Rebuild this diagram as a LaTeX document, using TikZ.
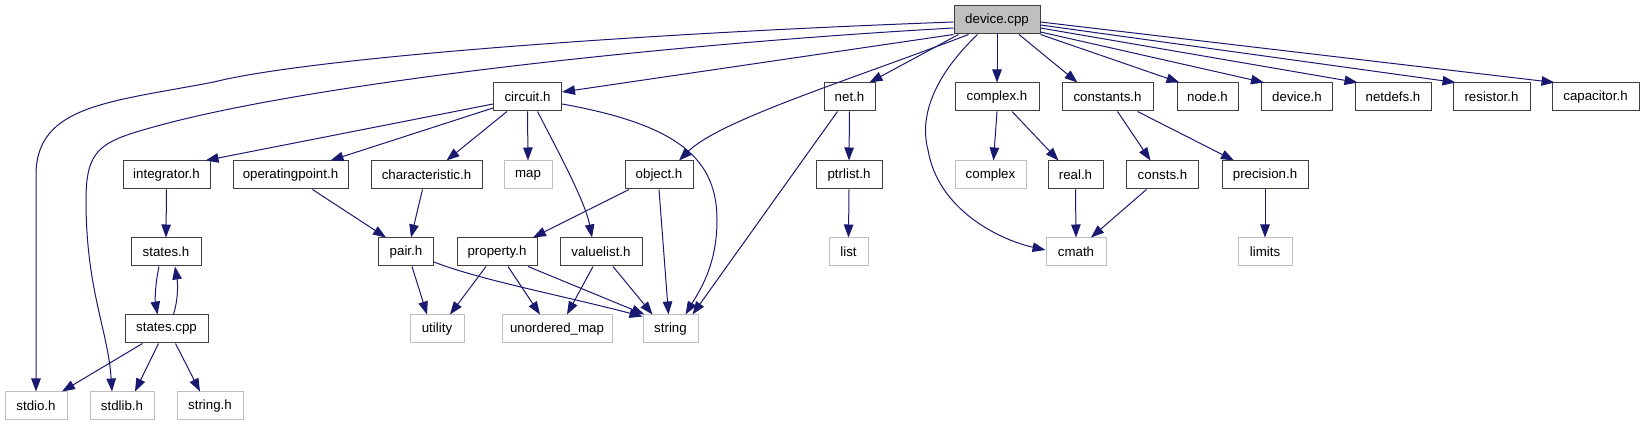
\documentclass[tikz,border=0pt]{standalone}
\usepackage{fontspec}
\setmainfont{Liberation Sans}
\usetikzlibrary{arrows.meta}
\definecolor{edgeblue}{HTML}{191970}
\definecolor{sysgray}{HTML}{BFBFBF}
\definecolor{boxline}{HTML}{404040}

\begin{document}
\begin{tikzpicture}[x=1pt, y=-1pt,
  file/.style={draw=boxline, line width=1pt, minimum height=28pt, inner sep=1pt, font=\fontsize{13.3}{16}\selectfont},
  sys/.style={file, draw=sysgray},
  root/.style={file, fill=sysgray},
  dep/.style={-{Triangle[length=13pt,width=9.5pt]}, edgeblue, line width=1pt}
]
  \useasboundingbox (0,0) rectangle (1644,427);

  % Top file
  \node[root, minimum width=86] (dev) at (997,20) {device.cpp};

  % First level
  \node[file, minimum width=68] (circuit) at (527.5,97) {circuit.h};
  \node[file, minimum width=51] (net) at (849.5,97) {net.h};
  \node[file, minimum width=84] (cplxh) at (997,97) {complex.h};
  \node[file, minimum width=91] (constants) at (1107.5,97) {constants.h};
  \node[file, minimum width=61] (nodeh) at (1207.5,97) {node.h};
  \node[file, minimum width=71] (deviceh) at (1297,97) {device.h};
  \node[file, minimum width=76] (netdefs) at (1393,97) {netdefs.h};
  \node[file, minimum width=77] (resistor) at (1491.5,97) {resistor.h};
  \node[file, minimum width=87] (capacitor) at (1595.5,97) {capacitor.h};

  % Second level
  \node[file, minimum width=87] (integrator) at (166.5,175) {integrator.h};
  \node[file, minimum width=115] (opoint) at (290.5,175) {operatingpoint.h};
  \node[file, minimum width=111] (charac) at (426.5,175) {characteristic.h};
  \node[sys, minimum width=48] (map) at (528,175) {map};
  \node[file, minimum width=68] (object) at (659,175) {object.h};
  \node[file, minimum width=66] (ptrlist) at (849,175) {ptrlist.h};
  \node[sys, minimum width=71] (cplx) at (990.5,175) {complex};
  \node[file, minimum width=55] (real) at (1075.5,175) {real.h};
  \node[file, minimum width=72] (consts) at (1162.5,175) {consts.h};
  \node[file, minimum width=86] (precision) at (1265,175) {precision.h};

  % Third level
  \node[file, minimum width=70] (statesh) at (166,252) {states.h};
  \node[file, minimum width=55] (pair) at (406,252) {pair.h};
  \node[file, minimum width=80] (property) at (497,252) {property.h};
  \node[file, minimum width=82] (valuelist) at (601,252) {valuelist.h};
  \node[sys, minimum width=39] (list) at (848.5,252) {list};
  \node[sys, minimum width=60] (cmath) at (1076,252) {cmath};
  \node[sys, minimum width=54] (limits) at (1265,252) {limits};

  % Fourth level
  \node[file, minimum width=83] (statescpp) at (166.5,329) {states.cpp};
  \node[sys, minimum width=54] (utility) at (437,329) {utility};
  \node[sys, minimum width=110] (umap) at (557,329) {unordered\_map};
  \node[sys, minimum width=55] (string) at (670.5,329) {string};

  % Bottom level
  \node[sys, minimum width=62] (stdio) at (36,406) {stdio.h};
  \node[sys, minimum width=64] (stdlib) at (122,406) {stdlib.h};
  \node[sys, minimum width=66] (stringh) at (210,406) {string.h};

  % Includes of device.cpp
  \draw[dep] ([yshift=-2pt]dev.west) .. controls (600,35) and (300,60) .. (214,82)
    .. controls (110,102) and (36,105) .. (36,175) -- (stdio.north);
  \draw[dep] ([yshift=-8pt]dev.west) .. controls (650,45) and (300,85) .. (150,128)
    .. controls (100,142) and (86,150) .. (86,200) .. controls (86,290) and (108,330) .. ([xshift=-10pt]stdlib.north);
  \draw[dep] (dev.south west) -- ([yshift=5pt]circuit.east);
  \draw[dep] ([xshift=15pt]dev.south west) .. controls (850,80) and (720,120) .. ([xshift=20pt]object.north);
  \draw[dep] ([xshift=5pt]dev.south west) -- ([xshift=20pt]net.north);
  \draw[dep] ([xshift=24pt]dev.south west) .. controls (930,80) and (920,120) .. (928,150)
    .. controls (938,210) and (1000,240) .. ([yshift=2pt]cmath.west);
  \draw[dep] (dev.south) -- (cplxh.north);
  \draw[dep] ([xshift=22pt]dev.south) -- ([xshift=-30pt]constants.north);
  \draw[dep] (dev.south east) -- ([xshift=3pt]nodeh.north west);
  \draw[dep] ([yshift=-12pt]dev.east) -- ([xshift=3pt]deviceh.north west);
  \draw[dep] ([yshift=-8pt]dev.east) -- ([xshift=3pt]netdefs.north west);
  \draw[dep] ([yshift=-5pt]dev.east) -- ([xshift=3pt]resistor.north west);
  \draw[dep] ([yshift=-2pt]dev.east) -- ([xshift=3pt]capacitor.north west);

  % circuit.h
  \draw[dep] ([yshift=-7pt]circuit.west) -- ([xshift=-5pt]integrator.north east);
  \draw[dep] ([yshift=-11pt]circuit.west) -- ([xshift=40pt]opoint.north);
  \draw[dep] ([xshift=14pt]circuit.south west) -- ([xshift=20pt]charac.north);
  \draw[dep] (circuit.south) -- (map.north);
  \draw[dep] ([xshift=10pt]circuit.south) .. controls (552,140) and (585,200) .. ([xshift=-9pt]valuelist.north);
  \draw[dep] ([yshift=-7pt]circuit.east) .. controls (680,125) and (717,160) .. (717,220)
    .. controls (717,265) and (700,290) .. ([xshift=15pt]string.north);

  % object.h, net.h
  \draw[dep] ([xshift=-30pt]object.south) -- ([xshift=36pt]property.north);
  \draw[dep] (object.south) -- ([xshift=-2pt]string.north);
  \draw[dep] ([xshift=-12pt]net.south) -- ([xshift=22pt]string.north);
  \draw[dep] (net.south) -- (ptrlist.north);
  \draw[dep] (ptrlist.south) -- (list.north);

  % complex.h, constants.h
  \draw[dep] (cplxh.south) -- ([xshift=3pt]cplx.north);
  \draw[dep] ([xshift=15pt]cplxh.south) -- ([xshift=-17pt]real.north);
  \draw[dep] (real.south) -- (cmath.north);
  \draw[dep] ([xshift=10pt]constants.south) -- ([xshift=-12pt]consts.north);
  \draw[dep] ([xshift=30pt]constants.south) -- ([xshift=-31pt]precision.north);
  \draw[dep] ([xshift=-16pt]consts.south) -- ([xshift=15pt]cmath.north);
  \draw[dep] (precision.south) -- (limits.north);

  % states
  \draw[dep] (integrator.south) -- (statesh.north);
  \draw[dep] ([xshift=-7pt]statesh.south) .. controls (155,285) and (155,300) .. ([xshift=-9pt]statescpp.north);
  \draw[dep] ([xshift=7pt]statescpp.north) .. controls (178,300) and (178,285) .. ([xshift=9pt]statesh.south);
  \draw[dep] ([xshift=-24pt]statescpp.south) -- ([xshift=26pt]stdio.north);
  \draw[dep] ([xshift=-8pt]statescpp.south) -- ([xshift=13pt]stdlib.north);
  \draw[dep] ([xshift=9pt]statescpp.south) -- ([xshift=-10pt]stringh.north);

  % pair.h, property.h, valuelist.h
  \draw[dep] ([xshift=22pt]opoint.south) -- ([xshift=-20pt]pair.north);
  \draw[dep] ([xshift=-4pt]charac.south) -- ([xshift=5pt]pair.north);
  \draw[dep] ([xshift=6pt]pair.south) -- ([xshift=-10pt]utility.north);
  \draw[dep] ([yshift=-10pt]pair.east) .. controls (480,280) and (560,295) .. ([yshift=-2pt]string.north west);
  \draw[dep] ([xshift=-11pt]property.south) -- ([xshift=13pt]utility.north);
  \draw[dep] ([xshift=11pt]property.south) -- ([xshift=-17pt]umap.north);
  \draw[dep] ([xshift=31pt]property.south) -- ([xshift=-26pt]string.north);
  \draw[dep] ([xshift=-8pt]valuelist.south) -- ([xshift=10pt]umap.north);
  \draw[dep] ([xshift=12pt]valuelist.south) -- ([xshift=-18pt]string.north);
\end{tikzpicture}
\end{document}
